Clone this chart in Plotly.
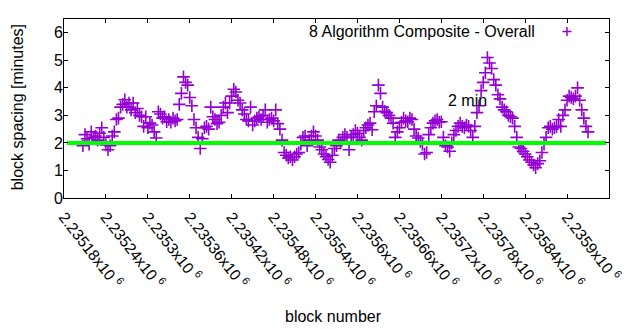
import plotly.graph_objects as go

# ---- data ----
first_block = 2235207
block_step = 3
spacing_minutes = [
    1.9, 2.3, 2.15, 1.95, 2.4, 2.2, 2.25, 2.1, 2.35, 2.55,
    2.2, 1.93, 1.75, 1.9, 2.25, 2.4, 2.85, 2.9, 3.3, 3.4,
    3.57, 3.3, 3.45, 3.2, 3.45, 3.1, 3.25, 3.0, 2.95, 2.6,
    2.95, 2.55, 2.72, 2.65, 2.4, 2.18, 3.13, 3.05, 2.9, 2.95,
    2.77, 2.85, 2.75, 2.9, 2.8, 2.85, 3.4, 3.8, 4.4, 4.2,
    4.1, 3.65, 3.35, 2.85, 2.55, 2.2, 1.8, 2.15, 2.55, 2.6,
    2.5, 3.3, 2.95, 2.85, 2.7, 2.75, 3.0, 3.3, 3.45, 3.1,
    3.45, 3.7, 3.95, 3.85, 3.55, 3.45, 3.2, 3.05, 2.85, 2.8,
    3.3, 2.65, 2.8, 2.9, 2.95, 2.85, 3.0, 3.2, 2.75, 2.85,
    2.9, 2.8, 3.2, 2.7, 2.5, 2.1, 1.65, 1.55, 1.45, 1.5,
    1.38, 1.5, 1.6, 1.65, 1.95, 2.2, 2.25, 1.9, 2.1, 2.25,
    2.4, 2.25, 2.1, 1.85, 1.75, 1.6, 1.5, 1.4, 1.3, 1.55,
    1.8, 1.9, 2.1, 2.0, 2.2, 2.3, 2.2, 1.75, 2.2, 2.3,
    2.45, 2.35, 2.2, 2.1, 2.45, 2.55, 2.65, 2.72, 2.48, 3.13,
    3.35, 4.1, 3.8, 3.3, 3.15, 3.1, 3.0, 2.9, 2.72, 2.2,
    2.4, 2.55, 2.75, 2.9, 2.8, 2.77, 2.9, 2.85, 2.5, 2.25,
    2.18, 2.05, 1.95, 1.6, 1.65, 2.3, 2.55, 2.72, 2.8, 2.85,
    2.75, 2.77, 2.2, 1.9, 1.85, 1.7, 2.0, 2.3, 2.45, 2.6,
    2.72, 2.6, 2.55, 2.65, 2.6, 2.45, 2.2, 2.6, 3.1, 3.35,
    3.9, 4.2, 4.55, 5.1, 4.9, 4.7, 4.3, 4.1, 3.75, 3.6,
    3.3, 3.2, 3.13, 3.0, 2.95, 2.9, 2.6, 2.2, 1.85, 1.8,
    1.7, 1.6, 1.5, 1.38, 1.3, 1.2, 1.1, 1.25, 1.35, 1.65,
    1.95, 2.2, 2.55, 2.6, 2.5, 2.55, 2.6, 2.85, 2.6, 3.0,
    3.2, 3.55, 3.7, 3.65, 3.6, 3.7, 4.0, 3.55, 3.2, 2.9,
    2.6, 2.4,
]
blocks = list(range(first_block, first_block + block_step * len(spacing_minutes), block_step))

target_x = [2235184, 2235956]
target_y = [2, 2]

series_name = "8 Algorithm Composite - Overall"
target_label = "2 min"
target_label_x = 2235727
target_label_y = 3.53

x_title = "block number"
y_title = "block spacing [minutes]"
x_tick_vals = [2235180, 2235240, 2235300, 2235360, 2235420, 2235480, 2235540,
               2235600, 2235660, 2235720, 2235780, 2235840, 2235900, 2235960]
x_tick_text = ["2.23518", "2.23524", "2.2353", "2.23536", "2.23542", "2.23548", "2.23554",
               "2.2356", "2.23566", "2.23572", "2.23578", "2.23584", "2.2359", "2.23596"]
y_tick_vals = [0, 1, 2, 3, 4, 5, 6]

PURPLE = "#9400D3"
GREEN = "#00FF00"
FONT = "Liberation Sans"

fig = go.Figure()
fig.add_trace(go.Scatter(
    x=blocks, y=spacing_minutes, mode="markers", name=series_name,
    marker=dict(symbol="cross-thin-open", size=9, color=PURPLE,
                line=dict(color=PURPLE, width=1.6)),
    showlegend=False,
))
fig.add_trace(go.Scatter(
    x=target_x, y=target_y, mode="lines", line=dict(color=GREEN, width=4),
    showlegend=False, hoverinfo="skip",
))

fig.update_layout(
    width=640, height=330,
    margin=dict(l=64, r=31, t=19, b=132, autoexpand=False),
    plot_bgcolor="white", paper_bgcolor="white",
    font=dict(family=FONT, size=16, color="black"),
    showlegend=False,
)
fig.update_xaxes(
    range=[x_tick_vals[0], x_tick_vals[-1]],
    tickvals=x_tick_vals,
    ticktext=[t + "x10 <sup>6</sup>" for t in x_tick_text],
    tickangle=52, ticks="inside", ticklen=4, tickcolor="black", ticklabelstandoff=3,
    showline=True, linecolor="black", linewidth=1, mirror="ticks",
    showgrid=False, zeroline=False, automargin=False,
    tickfont=dict(size=15.5),
)
fig.update_yaxes(
    range=[0, 6.5], tickvals=y_tick_vals,
    ticks="inside", ticklen=4, tickcolor="black", ticklabelstandoff=-3,
    showline=True, linecolor="black", linewidth=1, mirror="ticks",
    showgrid=False, zeroline=False, automargin=False,
)

# axis titles
fig.add_annotation(x=0.4954, y=-0.661, xref="paper", yref="paper", text=x_title,
                   xanchor="center", yanchor="middle", showarrow=False, font=dict(size=16))
fig.add_annotation(x=-0.0853, y=0.504, xref="paper", yref="paper", text=y_title,
                   textangle=-90, xanchor="center", yanchor="middle", showarrow=False,
                   font=dict(size=16))

# "2 min" label
fig.add_annotation(x=target_label_x, y=target_label_y, text=target_label,
                   xanchor="left", yanchor="middle", showarrow=False,
                   font=dict(size=16))

# legend (gnuplot style: text then sample on the right)
fig.add_annotation(x=0.8679, y=0.93, xref="paper", yref="paper",
                   text=series_name, xanchor="right", yanchor="middle",
                   showarrow=False, font=dict(size=16))
cx, cy, hx, hy = 0.9229, 0.93, 0.00826, 0.0252
fig.add_shape(type="line", xref="paper", yref="paper", x0=cx - hx, x1=cx + hx, y0=cy, y1=cy,
              line=dict(color=PURPLE, width=1.5))
fig.add_shape(type="line", xref="paper", yref="paper", x0=cx, x1=cx, y0=cy - hy, y1=cy + hy,
              line=dict(color=PURPLE, width=1.5))

fig.write_html("out.html")
